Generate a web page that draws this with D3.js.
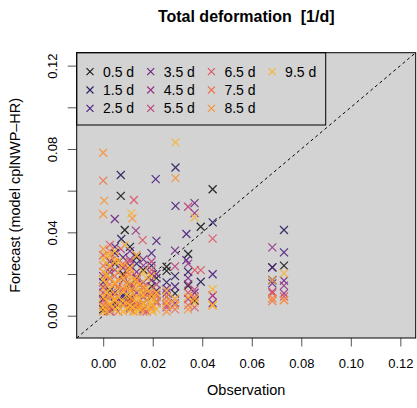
<!DOCTYPE html>
<meta charset="utf-8">
<script src="https://cdn.jsdelivr.net/npm/d3@7"></script>
<style>
	body { margin: 0; background: #fff; }
	text { font-family: "Liberation Sans", Arial, sans-serif; fill: #000; }
</style>
<body>
<script>
// lead times and their colours
var leads = ["0.5 d", "1.5 d", "2.5 d", "3.5 d", "4.5 d", "5.5 d", "6.5 d", "7.5 d", "8.5 d", "9.5 d"];
var colors = ["#151515", "#2c1b5e", "#4b1a7e", "#712284", "#973285", "#bb3e7b", "#dc5366", "#f0704a", "#f99233", "#f9b32a"];
var xTicks = [0, 0.02, 0.04, 0.06, 0.08, 0.10, 0.12];
var yTicks = [0, 0.02, 0.04, 0.06, 0.08, 0.10, 0.12];
var yLabels = [0, 0.04, 0.08, 0.12];

// [observation, forecast] pairs per lead time
var d05 = [[0.0071,0.0575],[0.0087,0.0411],[0.0442,0.0607],[0.0394,0.0427],[0.0343,0.0296],[0.0256,0.0235],[0.029,0.0107],[0.0369,0.0072],
	[0.0683,0.0232],[0.073,0.024],[0.0108,0.033],[0.0135,0.028],[0.0047,0.025],[0.008,0.020],[0.0162,0.022],[0.0195,0.014],[0.0027,0.012],
	[0.0108,0.008],[0.0215,0.018],[0.0135,0.004],[0.000,0.003],[0.0047,0.006],[0.0195,0.009],[0.0256,0.0215],[0.0343,0.0143]];
var d15 = [[0.0071,0.0675],[0.0292,0.0711],[0.0073,0.0368],[0.0442,0.0448],[0.0394,0.0163],[0.073,0.0411],[0.0683,0.0171],[0.0047,0.030],
	[0.0135,0.025],[0.0027,0.018],[0.0108,0.015],[0.0195,0.024],[0.008,0.010],[0.0162,0.006],[0.000,0.008],[0.0215,0.012],[0.0256,0.016],
	[0.029,0.019],[0.0343,0.021],[0.0047,0.004]];
var d25 = [[0.0212,0.0655],[0.0292,0.0527],[0.0215,0.0359],[0.0336,0.0392],[0.0442,0.0199],[0.073,0.0304],[0.0683,0.0232],[0.0336,0.0267],
	[0.0047,0.033],[0.008,0.028],[0.0108,0.024],[0.0027,0.021],[0.0135,0.018],[0.000,0.016],[0.0162,0.013],[0.0195,0.030],[0.008,0.009],
	[0.0215,0.007],[0.0047,0.011],[0.0108,0.004],[0.029,0.014],[0.0256,0.009],[0.0683,0.0171]];
var d35 = [[0.0047,0.0464],[0.0369,0.054],[0.029,0.0312],[0.073,0.0168],[0.0683,0.0155],[0.0108,0.031],[0.0162,0.027],[0.0027,0.026],
	[0.008,0.023],[0.0135,0.021],[0.000,0.019],[0.0195,0.017],[0.0047,0.015],[0.0108,0.012],[0.0215,0.020],[0.0162,0.009],[0.008,0.006],
	[0.0027,0.004],[0.0256,0.013],[0.0343,0.018],[0.0369,0.011],[0.0442,0.006]];
var d45 = [[0.0132,0.0408],[0.0369,0.0492],[0.0343,0.025],[0.0683,0.0328],[0.073,0.0144],[0.073,0.0107],[0.0108,0.027],[0.0047,0.022],
	[0.0162,0.024],[0.000,0.014],[0.008,0.017],[0.0135,0.011],[0.0195,0.020],[0.0027,0.009],[0.0215,0.015],[0.0108,0.006],[0.0162,0.003],
	[0.029,0.006],[0.0256,0.011],[0.0343,0.015],[0.0442,0.0096]];
var d55 = [[0.0343,0.0523],[0.029,0.0237],[0.0369,0.0125],[0.0442,0.0096],[0.0683,0.0115],[0.0071,0.032],[0.0135,0.029],[0.0027,0.023],
	[0.0195,0.026],[0.008,0.019],[0.000,0.011],[0.0108,0.014],[0.0162,0.016],[0.0047,0.008],[0.0215,0.010],[0.0135,0.005],[0.0256,0.004],
	[0.0027,0.002],[0.0343,0.008]];
var d65 = [[0.0124,0.0555],[0.0159,0.0363],[0.0442,0.037],[0.037,0.0219],[0.0394,0.0219],[0.0683,0.0107],[0.073,0.0092],[0.0027,0.034],
	[0.000,0.029],[0.0108,0.026],[0.0195,0.022],[0.0047,0.019],[0.0135,0.016],[0.008,0.013],[0.0162,0.011],[0.000,0.007],[0.0215,0.006],
	[0.0108,0.003],[0.029,0.008],[0.0256,0.005],[0.0343,0.011],[0.0369,0.004],
	[0.006,0.014],[0.0122,0.014],[0.0175,0.002],[0.0095,0.021],[0.0013,0.004]];
var d75 = [[0.000,0.0648],[0.0683,0.007],[0.0683,0.0083],[0.073,0.0075],[0.0027,0.031],[0.0047,0.028],[0.008,0.025],[0.0108,0.022],
	[0.0135,0.019],[0.000,0.024],[0.0162,0.014],[0.0195,0.011],[0.0215,0.009],[0.0027,0.015],[0.008,0.012],[0.0047,0.010],[0.0108,0.007],
	[0.000,0.005],[0.0135,0.004],[0.0162,0.002],[0.0027,0.003],[0.0256,0.007],[0.029,0.003],[0.0369,0.009],[0.0343,0.005],[0.0195,0.004],
	[0.0013,0.009],[0.006,0.006],[0.0095,0.016],[0.0122,0.008],[0.0148,0.005],[0.0175,0.010],[0.020,0.013],[0.006,0.002],[0.0013,0.019]];
var d85 = [[0.000,0.0782],[0.0004,0.0552],[0.0292,0.066],[0.000,0.0487],[0.0118,0.0467],[0.073,0.0075],[0.0683,0.0083],[0.000,0.032],
	[0.0027,0.029],[0.0047,0.026],[0.008,0.024],[0.0108,0.020],[0.0135,0.017],[0.0162,0.013],[0.0195,0.010],[0.0215,0.007],[0.000,0.021],
	[0.0027,0.018],[0.0047,0.015],[0.008,0.012],[0.0108,0.009],[0.0135,0.006],[0.0162,0.004],[0.000,0.013],[0.0027,0.010],[0.0047,0.007],
	[0.008,0.005],[0.0108,0.003],[0.000,0.002],[0.0027,0.005],[0.0195,0.003],[0.0256,0.009],[0.029,0.005],[0.0256,0.002],[0.0369,0.008],
	[0.0343,0.003],[0.0442,0.005],
	[0.0013,0.007],[0.0013,0.016],[0.006,0.009],[0.006,0.017],[0.0095,0.006],[0.0095,0.013],[0.0122,0.002],[0.0122,0.011],[0.0148,0.008],
	[0.0148,0.015],[0.0175,0.007],[0.020,0.005],[0.0013,0.025],[0.0095,0.019]];
var d95 = [[0.0292,0.0832],[0.0114,0.0491],[0.0369,0.0472],[0.0683,0.0171],[0.073,0.0203],[0.0442,0.0127],[0.0442,0.005],[0.0087,0.034],
	[0.0047,0.031],[0.0135,0.029],[0.000,0.027],[0.0027,0.024],[0.0108,0.023],[0.0162,0.021],[0.0195,0.019],[0.008,0.018],[0.0047,0.016],
	[0.0135,0.014],[0.000,0.017],[0.0027,0.013],[0.0108,0.012],[0.0162,0.010],[0.0215,0.011],[0.000,0.009],[0.0047,0.008],[0.008,0.007],
	[0.0135,0.008],[0.0027,0.006],[0.0108,0.005],[0.000,0.004],[0.0047,0.003],[0.008,0.002],[0.0135,0.002],[0.0162,0.006],[0.0195,0.006],
	[0.0215,0.003],[0.0256,0.006],[0.029,0.008],[0.0256,0.012],[0.0343,0.009],[0.0369,0.006],
	[0.0013,0.002],[0.0013,0.011],[0.0013,0.020],[0.006,0.004],[0.006,0.012],[0.006,0.021],[0.0095,0.003],[0.0095,0.010],[0.0095,0.015],
	[0.0122,0.004],[0.0122,0.017],[0.0148,0.003],[0.0148,0.011],[0.0175,0.004],[0.0175,0.013],[0.020,0.002],[0.020,0.008],[0.0013,0.029],
	[0.006,0.026],[0.0175,0.018]];
var series = [d05, d15, d25, d35, d45, d55, d65, d75, d85, d95];

var w = 417, h = 408,
	pL = 76.7, pR = 415.7, pT = 52.7, pB = 338;

var svg = d3.select("body").append("svg")
	.attr("width", w)
	.attr("height", h);

var x = d3.scaleLinear().domain([-0.0107, 0.1262]).range([pL, pR]);
var y = d3.scaleLinear().domain([-0.0107, 0.1262]).range([pB, pT]);

svg.append("rect")
	.attr("x", pL).attr("y", pT)
	.attr("width", pR - pL).attr("height", pB - pT)
	.style("fill", "#d3d3d3");

// 1:1 line
svg.append("line")
	.attr("x1", x(-0.0107)).attr("y1", y(-0.0107))
	.attr("x2", x(0.1262)).attr("y2", y(0.1262))
	.style("stroke", "#000")
	.style("stroke-width", 1)
	.style("stroke-dasharray", "3,3");

// crosses, one group per lead time
var r = 4;
series.forEach(function(data, i) {
	svg.append("g").selectAll("path")
		.data(data)
		.enter()
		.append("path")
		.attr("d", function(d) {
			var px = x(d[0]), py = y(d[1]);
			return "M" + (px - r) + "," + (py - r) + "L" + (px + r) + "," + (py + r) +
				"M" + (px - r) + "," + (py + r) + "L" + (px + r) + "," + (py - r);
		})
		.style("stroke", colors[i])
		.style("stroke-width", 1.2)
		.style("stroke-opacity", 0.9)
		.style("fill", "none");
});

// legend
var legend = svg.append("g");
legend.append("rect")
	.attr("x", pL).attr("y", pT)
	.attr("width", 249).attr("height", 72.3)
	.style("fill", "#d3d3d3")
	.style("stroke", "#000")
	.style("stroke-width", 1);

var item = legend.selectAll(".item")
	.data(leads)
	.enter()
	.append("g")
	.attr("transform", function(d, i) {
		return "translate(" + (90 + Math.floor(i / 3) * 60.7) + "," + (71.7 + (i % 3) * 18.3) + ")";
	});
item.append("path")
	.attr("d", "M-3.5,-3.5L3.5,3.5M-3.5,3.5L3.5,-3.5")
	.style("stroke", function(d, i) { return colors[i]; })
	.style("stroke-width", 1.1)
	.style("fill", "none");
item.append("text")
	.attr("x", 13)
	.attr("y", 5)
	.style("font-size", "14px")
	.text(function(d) { return d; });

// axes
var xAxis = svg.append("g")
	.attr("transform", "translate(0," + pB + ")")
	.call(d3.axisBottom(x).tickValues(xTicks).tickSize(8.5).tickFormat(d3.format(".2f")));
xAxis.select(".domain").remove();
xAxis.selectAll(".tick line").style("stroke", "#555");
xAxis.selectAll(".tick text")
	.attr("y", 21)
	.style("font-size", "13px")
	.style("font-family", "Liberation Sans, Arial, sans-serif")
	.style("fill", "#000");

var yAxis = svg.append("g")
	.attr("transform", "translate(" + pL + ",0)")
	.call(d3.axisLeft(y).tickValues(yTicks).tickSize(9).tickFormat(function(d) {
		return yLabels.some(function(v) { return Math.abs(v - d) < 1e-9; }) ? d3.format(".2f")(d) : "";
	}));
yAxis.select(".domain").remove();
yAxis.selectAll(".tick line").style("stroke", "#555");
yAxis.selectAll(".tick text")
	.attr("x", 0).attr("dy", 0)
	.attr("transform", "translate(-20,0) rotate(-90)")
	.style("text-anchor", "middle")
	.style("font-size", "13px")
	.style("font-family", "Liberation Sans, Arial, sans-serif")
	.style("fill", "#000");

// plot box
svg.append("rect")
	.attr("x", pL).attr("y", pT)
	.attr("width", pR - pL).attr("height", pB - pT)
	.style("fill", "none")
	.style("stroke", "#000")
	.style("stroke-width", 1);

svg.append("text")
	.attr("x", (pL + pR) / 2)
	.attr("y", 22)
	.style("text-anchor", "middle")
	.style("font-weight", "bold")
	.style("font-size", "16px")
	.style("white-space", "pre")
	.text("Total deformation  [1/d]");

svg.append("text")
	.attr("x", (pL + pR) / 2)
	.attr("y", 395)
	.style("text-anchor", "middle")
	.style("font-size", "14.5px")
	.text("Observation");

svg.append("text")
	.attr("transform", "translate(20," + (pB + pT) / 2 + ") rotate(-90)")
	.style("text-anchor", "middle")
	.style("font-size", "14.5px")
	.text("Forecast (model cplNWP\u2013HR)");
</script>
</body>
